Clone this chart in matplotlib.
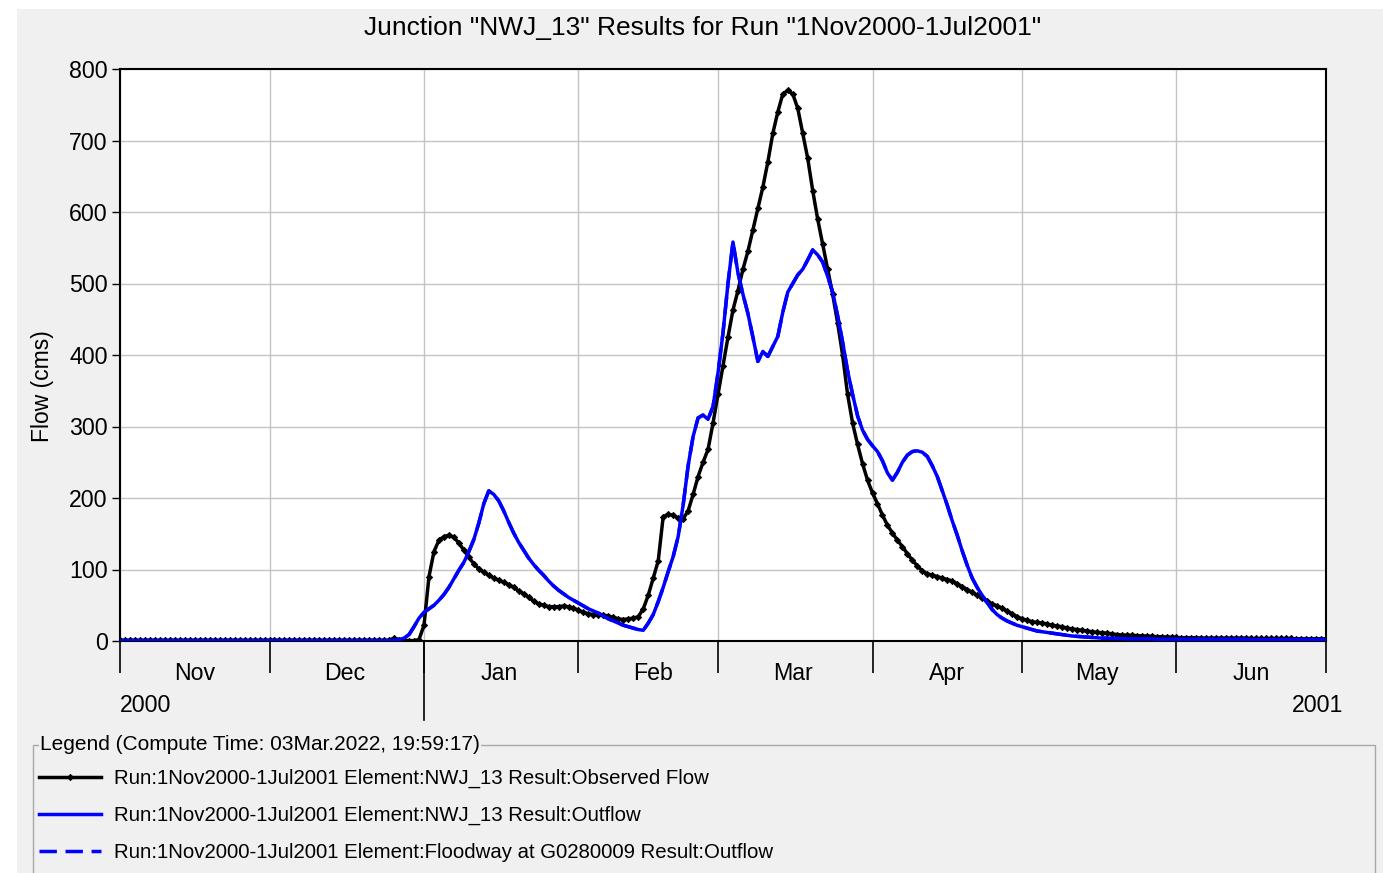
import matplotlib
matplotlib.use("Agg")
import matplotlib.pyplot as plt
import matplotlib.dates as mdates
from matplotlib.patches import Rectangle
import numpy as np
import pandas as pd

# daily flows (cms), 1 Nov 2000 .. 1 Jul 2001
dates = pd.date_range("2000-11-01", "2001-07-01", freq="D")

observed = [
    # Nov
    1, 1, 1, 1, 1, 1, 1, 1, 1, 1, 1, 1, 1, 1, 1, 1, 1, 1, 1, 1,
    1, 1, 1, 1, 1, 1, 1, 1, 1, 1,
    # Dec
    1, 1, 1, 1, 1, 1, 1, 1, 1, 1, 1, 1, 1, 1, 1, 1, 1, 1, 1, 1,
    1, 1, 1, 1, 1, 4, 2, 1, 0.5, 0.5, 2,
    # Jan
    22, 90, 125, 141, 146, 148, 145, 137, 127, 117,
    108, 101, 96, 92, 88, 85, 82, 79, 75, 70,
    66, 61, 56, 52, 50, 48, 48, 48, 49, 48, 46,
    # Feb
    43, 40, 38, 37, 36, 36, 35, 33, 31, 30,
    31, 32, 34, 45, 64, 88, 112, 174, 177, 176,
    172, 171, 182, 205, 230, 250, 268, 305,
    # Mar
    345, 385, 425, 463, 490, 520, 545, 575, 605, 635,
    670, 710, 740, 765, 770, 765, 745, 710, 675, 630,
    590, 555, 520, 485, 445, 400, 345, 305, 275, 248, 225,
    # Apr
    207, 192, 176, 162, 151, 141, 132, 122, 113, 105,
    98, 94, 92, 90, 88, 86, 84, 80, 76, 72,
    68, 64, 60, 56, 52, 49, 46, 42, 38, 34,
    # May
    31, 29, 27, 26, 25, 24, 22, 21, 20, 18,
    17, 16, 15, 14, 13, 12, 11.5, 11, 10, 9,
    8.5, 8, 8, 7.5, 7, 7, 6.5, 6, 6, 5.5, 5.5,
    # Jun
    5, 4.5, 4.5, 4.5, 4.5, 4, 4, 4, 4, 4,
    4, 4, 4, 4, 4, 3.5, 3.5, 3.5, 3.5, 3.5,
    3.5, 3.5, 3.5, 3.5, 3, 3, 3, 3, 3, 3,
    # Jul
    3,
]

outflow = [
    # Nov
    0.5, 0.5, 0.5, 0.5, 0.5, 0.5, 0.5, 0.5, 0.5, 0.5,
    0.5, 0.5, 0.5, 0.5, 0.5, 0.5, 0.5, 0.5, 0.5, 0.5,
    0.5, 0.5, 0.5, 0.5, 0.5, 0.5, 0.5, 0.5, 0.5, 0.5,
    # Dec
    0.5, 0.5, 0.5, 0.5, 0.5, 0.5, 0.5, 0.5, 0.5, 0.5,
    0.5, 0.5, 0.5, 0.5, 0.5, 0.5, 0.5, 0.5, 0.5, 0.5,
    0.5, 0.5, 0.5, 0.5, 0.5, 1, 2, 4, 9, 20, 32,
    # Jan
    40, 45, 50, 57, 65, 75, 87, 99, 110, 125,
    142, 165, 192, 210, 205, 196, 182, 166, 151, 138,
    127, 116, 107, 99, 92, 84, 77, 71, 66, 61, 57,
    # Feb
    53, 49, 45, 42, 39, 35, 31, 28, 25, 22,
    20, 18, 16, 15, 25, 37, 55, 75, 97, 118,
    146, 190, 245, 286, 312, 316, 310, 328,
    # Mar
    375, 431, 500, 558, 515, 485, 458, 425, 391, 405,
    398, 412, 426, 460, 488, 500, 512, 520, 533, 547,
    540, 530, 510, 488, 455, 418, 378, 345, 315, 295, 282,
    # Apr
    273, 265, 252, 235, 225, 236, 250, 260, 265, 266,
    264, 258, 245, 230, 210, 190, 168, 148, 126, 106,
    88, 75, 64, 54, 44, 37, 32, 28, 25, 22,
    # May
    20, 18, 16, 14, 13, 12, 11, 10, 9, 8,
    7, 6.5, 6, 5.5, 5, 4.5, 4, 4, 3.5, 3.5,
    3.5, 3, 3, 3, 3, 3, 3, 2.5, 2.5, 2.5, 2.5,
    # Jun
    2.5, 2.5, 2.5, 2.5, 2.5, 2.5, 2.5, 2.5, 2.5, 2.5,
    2.5, 2.5, 2.5, 2.5, 2.5, 2, 2, 2, 2, 2,
    2, 2, 2, 2, 2, 2, 2, 2, 2, 2,
    # Jul
    2,
]

labels = [
    "Run:1Nov2000-1Jul2001 Element:NWJ_13 Result:Observed Flow",
    "Run:1Nov2000-1Jul2001 Element:NWJ_13 Result:Outflow",
    "Run:1Nov2000-1Jul2001 Element:Floodway at G0280009 Result:Outflow",
]
title = 'Junction "NWJ_13" Results for Run "1Nov2000-1Jul2001"'
legend_title = "Legend (Compute Time: 03Mar.2022, 19:59:17)"

plt.rcParams["font.family"] = ["Liberation Sans", "DejaVu Sans"]
TICK_FS = 16.7
LEG_FS = 14.7

W, H = 1383, 873
fig = plt.figure(figsize=(W / 100, H / 100), dpi=100, facecolor="white")
fig.patches.append(Rectangle((17 / W, 0), 1, 1 - 9 / H, transform=fig.transFigure,
                             facecolor="#f0f0f0", edgecolor="none", zorder=-10))

ax = fig.add_axes([120 / W, 1 - 641 / H, 1206 / W, 572 / H])
ax.set_facecolor("white")

# floodway series sits underneath the junction outflow
l3, = ax.plot(dates, outflow, color="#0000ff", lw=2.5, ls=(0, (5, 2.5)), zorder=2)
l1, = ax.plot(dates, observed, color="black", lw=2.5, marker="D", ms=3.2,
              markeredgewidth=0.6, zorder=3)
l2, = ax.plot(dates, outflow, color="#0000ff", lw=2.5, zorder=4)

ax.set_xlim(dates[0], dates[-1])
ax.set_ylim(0, 800)
ax.set_yticks(np.arange(0, 801, 100))
ax.tick_params(axis="y", direction="out", length=6, width=1, labelsize=TICK_FS, pad=3)

ax.xaxis.set_major_locator(mdates.MonthLocator())
ax.xaxis.set_major_formatter(plt.NullFormatter())
ax.xaxis.set_minor_locator(mdates.MonthLocator(bymonthday=16))
ax.xaxis.set_minor_formatter(mdates.DateFormatter("%b"))
ax.tick_params(axis="x", which="major", direction="out", length=23, width=1.2)
ax.tick_params(axis="x", which="minor", length=0, labelsize=TICK_FS, pad=15)

ax.grid(True, which="major", color="#c4c4c4", lw=1)
ax.set_axisbelow(True)
for s in ax.spines.values():
    s.set_linewidth(1.5)
    s.set_color("black")

# year break below the axis
ax.axvline(pd.Timestamp("2001-01-01"), ymin=-0.138, ymax=0, color="black",
           lw=1.2, clip_on=False)
ax.text(0, -0.112, "2000", transform=ax.transAxes, ha="left", va="center",
        fontsize=TICK_FS)
ax.text(1.014, -0.112, "2001", transform=ax.transAxes, ha="right", va="center",
        fontsize=TICK_FS)

fig.text(703 / W, 1 - 28 / H, title, ha="center", va="center", fontsize=19)
fig.text(42 / W, 1 - 386 / H, "Flow (cms)", rotation=90, ha="center", va="center",
         fontsize=16.5)

# legend panel
fig.patches.append(Rectangle((33 / W, -0.05), (1375 - 33) / W, 0.05 + 1 - 745 / H,
                             transform=fig.transFigure, fill=False,
                             edgecolor="#a8a8a8", lw=1, zorder=1))
fig.text(40 / W, 1 - 745 / H, legend_title, ha="left", va="center", fontsize=15,
         bbox=dict(facecolor="#f0f0f0", edgecolor="none", pad=1), zorder=2)
fig.legend(handles=[l1, l2, l3], labels=labels, loc="upper left",
           bbox_to_anchor=(39 / W, 1 - 769 / H), frameon=False, fontsize=LEG_FS,
           handlelength=3.05, handletextpad=0.62, labelspacing=0.88,
           borderpad=0, borderaxespad=0, numpoints=1)

fig.savefig("out.png", dpi=100, facecolor=fig.get_facecolor())
